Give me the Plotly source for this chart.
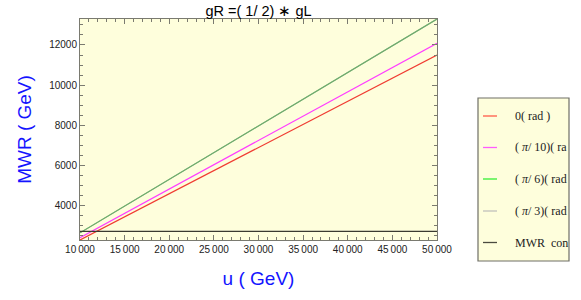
import plotly.graph_objects as go

# Data
u_vals = [10000, 50000]
mwr_0 = [2300, 11500]           # 0 rad
mwr_pi10 = [2417, 12085]        # pi/10 rad
mwr_pi6 = [2658, 13290]         # pi/6 rad
mwr_pi3 = [2658, 13290]         # pi/3 rad (coincides)
mwr_constraint = [2730, 2730]   # MWR constraint

x_tickvals = [10000, 15000, 20000, 25000, 30000, 35000, 40000, 45000, 50000]
x_ticktext = ["10\u2009000", "15\u2009000", "20\u2009000", "25\u2009000", "30\u2009000",
              "35\u2009000", "40\u2009000", "45\u2009000", "50\u2009000"]
y_tickvals = [4000, 6000, 8000, 10000, 12000]
y_ticktext = ["4000", "6000", "8000", "10000", "12000"]

legend_names = ["0( rad )", "( <i>π</i>/ 10)( ra", "( <i>π</i>/ 6)( rad", "( <i>π</i>/ 3)( rad", "MWR  con"]
legend_colors = ["#ff5a4a", "#ff5cff", "#33ee33", "#c0c0bc", "#4a4a40"]

W, H = 581, 300
ML, MR, MT, MB = 80, 144, 19, 60
PW, PH = W - ML - MR, H - MT - MB


def px_x(px):
    return (px - ML) / PW


def px_y(py):
    return (H - MB - py) / PH


fig = go.Figure()
fig.add_trace(go.Scatter(x=u_vals, y=mwr_0, mode="lines", name="0 (rad)",
                         line=dict(color="#f03c32", width=1.2)))
fig.add_trace(go.Scatter(x=u_vals, y=mwr_pi10, mode="lines", name="(π/10) (rad)",
                         line=dict(color="#ff3cff", width=1.2)))
fig.add_trace(go.Scatter(x=u_vals, y=mwr_pi6, mode="lines", name="(π/6) (rad)",
                         line=dict(color="#3cc83c", width=1.1)))
fig.add_trace(go.Scatter(x=u_vals, y=mwr_pi3, mode="lines", name="(π/3) (rad)",
                         opacity=0.65, line=dict(color="#909090", width=1.1)))
fig.add_trace(go.Scatter(x=u_vals, y=mwr_constraint, mode="lines", name="MWR constraint",
                         line=dict(color="#3a3a30", width=1.1)))

axis_common = dict(
    showline=True, linecolor="#7a7a70", linewidth=1, mirror="allticks",
    ticks="inside", ticklen=5, tickcolor="#7a7a70", tickwidth=1,
    showgrid=False, zeroline=False, automargin=False,
    tickfont=dict(family="Liberation Sans, Arial", size=10, color="#222"),
)

fig.update_xaxes(range=[10000, 50000], tickvals=x_tickvals, ticktext=x_ticktext,
                 minor=dict(dtick=1000, ticks="inside", ticklen=3, tickcolor="#7a7a70", showgrid=False),
                 title=dict(text="u ( GeV)", font=dict(family="Liberation Sans, Arial", size=19, color="#1414ff"),
                            standoff=17),
                 **axis_common)
fig.update_yaxes(range=[2300, 13290], tickvals=y_tickvals, ticktext=y_ticktext,
                 minor=dict(dtick=500, tick0=0, ticks="inside", ticklen=3, tickcolor="#7a7a70", showgrid=False),
                 title=dict(text="MWR ( GeV)", font=dict(family="Liberation Sans, Arial", size=19, color="#1414ff"),
                            standoff=12),
                 **axis_common)

# Legend box (drawn manually to match the clipped Mathematica legend)
fig.add_shape(type="rect", xref="paper", yref="paper",
              x0=px_x(478), x1=px_x(569), y0=px_y(261), y1=px_y(98),
              fillcolor="#fefedc", line=dict(color="#6e6e66", width=1.2), layer="above")
entry_y = [116, 147.5, 179, 211, 242.5]
for name, col, ey in zip(legend_names, legend_colors, entry_y):
    fig.add_shape(type="line", xref="paper", yref="paper",
                  x0=px_x(483), x1=px_x(497), y0=px_y(ey), y1=px_y(ey),
                  line=dict(color=col, width=1.3), layer="above")
    fig.add_annotation(text=name, xref="paper", yref="paper", x=px_x(513), y=px_y(ey),
                       xanchor="left", yanchor="middle", showarrow=False,
                       font=dict(family="Liberation Serif, Times New Roman", size=12, color="#222"))

fig.update_layout(
    width=W, height=H,
    margin=dict(l=ML, r=MR, t=MT, b=MB, autoexpand=False),
    paper_bgcolor="white",
    plot_bgcolor="#fefedc",
    title=dict(text="gR =( 1/ 2) ∗ gL", x=0.5, xref="paper", xanchor="center",
               y=1 - 11 / H, yref="container", yanchor="middle",
               font=dict(family="Liberation Sans, Arial", size=14.5, color="black")),
    showlegend=False,
)

fig.write_html("out.html", config={"displayModeBar": False},
               post_script="document.body.style.margin='0';")
